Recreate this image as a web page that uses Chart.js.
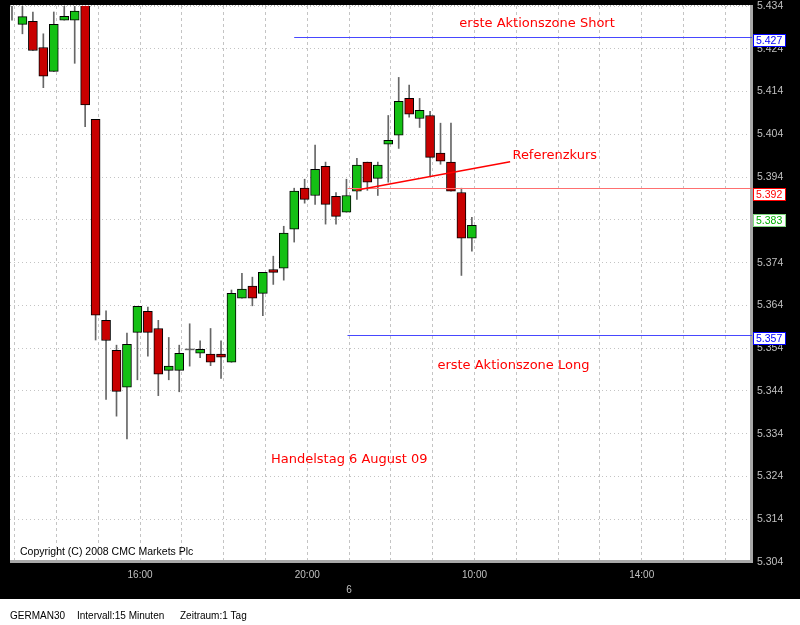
<!DOCTYPE html>
<html>
<head>
<meta charset="utf-8">
<script src="https://cdn.jsdelivr.net/npm/chart.js@4.4.1/dist/chart.umd.min.js"></script>
<style>
  html, body { margin: 0; padding: 0; background: #000; }
  #wrap { width: 800px; height: 625px; }
</style>
</head>
<body>
<div id="wrap"><canvas id="chart" width="800" height="625"></canvas></div>
<script>
// ---- GERMAN30, 15 Minuten (Kerzen von links nach rechts) ----
const opens  = [5.4370, 5.4297, 5.4304, 5.4243, 5.4187, 5.4307, 5.4307, 5.4380, 5.4075, 5.3605,
                5.3535, 5.3449, 5.3577, 5.3626, 5.3586, 5.3488, 5.3488, 5.3537, 5.3528, 5.3526,
                5.3526, 5.3507, 5.3657, 5.3685, 5.3668, 5.3724, 5.3727, 5.3818, 5.3914, 5.3897,
                5.3965, 5.3895, 5.3858, 5.3907, 5.3975, 5.3937, 5.4017, 5.4038, 5.4124, 5.4077,
                5.4084, 5.3996, 5.3975, 5.3904, 5.3797];
const highs  = [5.4410, 5.4360, 5.4326, 5.4275, 5.4326, 5.4360, 5.4360, 5.4400, 5.4075, 5.3627,
                5.3547, 5.3575, 5.3638, 5.3636, 5.3605, 5.3565, 5.3547, 5.3597, 5.3557, 5.3586,
                5.3557, 5.3676, 5.3715, 5.3706, 5.3717, 5.3755, 5.3825, 5.3914, 5.3935, 5.4015,
                5.3975, 5.3904, 5.3935, 5.3984, 5.3975, 5.3975, 5.4084, 5.4173, 5.4155, 5.4124,
                5.4094, 5.4066, 5.4066, 5.3914, 5.3846];
const lows   = [5.4307, 5.4275, 5.4236, 5.4149, 5.4187, 5.4307, 5.4206, 5.4058, 5.3559, 5.3420,
                5.3381, 5.3328, 5.3466, 5.3521, 5.3429, 5.3466, 5.3438, 5.3498, 5.3518, 5.3499,
                5.3469, 5.3507, 5.3657, 5.3639, 5.3616, 5.3689, 5.3699, 5.3788, 5.3879, 5.3876,
                5.3830, 5.3830, 5.3858, 5.3888, 5.3909, 5.3897, 5.3928, 5.4007, 5.4080, 5.4056,
                5.3941, 5.3970, 5.3907, 5.3710, 5.3767];
const closes = [5.4400, 5.4315, 5.4236, 5.4176, 5.4297, 5.4316, 5.4328, 5.4109, 5.3617, 5.3558,
                5.3439, 5.3549, 5.3638, 5.3577, 5.3479, 5.3498, 5.3528, 5.3537, 5.3537, 5.3507,
                5.3519, 5.3668, 5.3678, 5.3657, 5.3717, 5.3717, 5.3809, 5.3907, 5.3888, 5.3958,
                5.3876, 5.3848, 5.3897, 5.3968, 5.3928, 5.3968, 5.4026, 5.4117, 5.4087, 5.4096,
                5.3986, 5.3977, 5.3907, 5.3797, 5.3827];

// ---- Achsen ----
const yTicks = [5.304, 5.314, 5.324, 5.334, 5.344, 5.354, 5.364, 5.374,
                5.384, 5.394, 5.404, 5.414, 5.424, 5.434];
const hourLabels  = ['16:00', '20:00', '10:00', '14:00'];
const hourLabelAt = [12, 28, 44, 60];
const dayLabels   = ['6'];
const dayLabelAt  = [32];

// ---- Markierungen ----
const levelValues = [5.4267, 5.3914, 5.357];
const levelLabels = ['5.427', '5.392', '5.357'];
const levelStart  = [27, 32.1, 32.1];
const refLineIdx  = [32.9, 47.66];
const refLineVal  = [5.3909, 5.3976];
const noteTexts = ['erste Aktionszone Short', 'Referenzkurs', 'erste Aktionszone Long', 'Handelstag 6 August 09'];
const noteIdx   = [42.8, 47.88, 40.7, 24.78];
const noteVal   = [5.4292, 5.3982, 5.3491, 5.3271];

// ---- Farben ----
const C_UP    = '#14c014';
const C_DOWN  = '#c80000';
const C_WICK  = '#666666';
const C_GRID  = '#c4c4c4';
const C_TICK  = '#c0c0c0';
const C_BLUE  = '#0000ff';
const C_RED   = '#ff0000';
const C_GREEN = '#00b000';

const HOURS = 4; // Kerzen pro Stunde
const gridTicks = [];
for (let k = 0; k <= 17; k++) gridTicks.push(k * HOURS + 0.25);

const bodyData = opens.map((o, i) => {
  const c = closes[i];
  if (o === c) return { x: i, y: [o - 0.0001, o + 0.0001] };
  return { x: i, y: [Math.min(o, c), Math.max(o, c)] };
});
const wickData = highs.map((h, i) => ({ x: i, y: [lows[i], h] }));
const bodyColors = opens.map((o, i) => closes[i] > o ? C_UP : (closes[i] < o ? C_DOWN : C_WICK));
const bodyBorders = opens.map((o, i) => closes[i] === o ? 0 : 1);

function xLabel(v) {
  const i = Math.round(v - 0.25);
  const h = hourLabelAt.indexOf(i);
  const d = dayLabelAt.indexOf(i);
  if (h >= 0) return hourLabels[h];
  if (d >= 0) return ['', dayLabels[d]];
  return '';
}

function valueBox(ctx, x, top, text, color, dashed) {
  ctx.save();
  ctx.fillStyle = '#fff';
  ctx.fillRect(x, top, 33, 13);
  ctx.strokeStyle = color;
  ctx.lineWidth = 1;
  if (dashed) ctx.setLineDash([1, 1]);
  ctx.strokeRect(x + 0.5, top + 0.5, 32, 12);
  ctx.setLineDash([]);
  ctx.fillStyle = color;
  ctx.font = '10.5px "Liberation Sans", Arial, sans-serif';
  ctx.textAlign = 'left';
  ctx.textBaseline = 'middle';
  ctx.fillText(text, x + 3, top + 7);
  ctx.restore();
}

const framePlugin = {
  id: 'frame',
  beforeDraw(chart) {
    const { ctx, chartArea: a, width, height } = chart;
    ctx.save();
    ctx.fillStyle = '#000';
    ctx.fillRect(0, 0, width, height);
    ctx.fillStyle = '#fff';
    ctx.fillRect(a.left, a.top - 1, a.right - a.left, a.bottom - a.top + 1);
    ctx.fillRect(0, a.bottom + 37, width, height - a.bottom - 37);
    ctx.restore();
  },
  afterDraw(chart) {
    const { ctx, chartArea: a } = chart;
    const xs = chart.scales.x, ys = chart.scales.y;
    ctx.save();

    // Rahmen
    ctx.strokeStyle = '#b0b0b0';
    ctx.setLineDash([1, 2]);
    ctx.beginPath();
    ctx.moveTo(a.left, a.top - 0.5);
    ctx.lineTo(a.right, a.top - 0.5);
    ctx.stroke();
    ctx.setLineDash([]);
    ctx.fillStyle = '#a8a8a8';
    ctx.fillRect(a.right, a.top - 1, 3, a.bottom - a.top + 2);
    ctx.fillRect(a.left, a.bottom - 2, a.right - a.left + 3, 3);

    // Zonen / Referenzlinie
    levelValues.forEach((v, i) => {
      const y = Math.round(ys.getPixelForValue(v)) + 0.5;
      ctx.strokeStyle = i === 1 ? '#ff7070' : '#4848ff';
      ctx.lineWidth = 1;
      ctx.beginPath();
      ctx.moveTo(xs.getPixelForValue(levelStart[i]), y);
      ctx.lineTo(a.right + 2, y);
      ctx.stroke();
    });

    ctx.strokeStyle = C_RED;
    ctx.lineWidth = 1.5;
    ctx.beginPath();
    ctx.moveTo(xs.getPixelForValue(refLineIdx[0]), ys.getPixelForValue(refLineVal[0]));
    ctx.lineTo(xs.getPixelForValue(refLineIdx[1]), ys.getPixelForValue(refLineVal[1]));
    ctx.stroke();

    // Texte
    ctx.fillStyle = C_RED;
    ctx.font = '13px "DejaVu Sans", Verdana, sans-serif';
    ctx.textAlign = 'left';
    ctx.textBaseline = 'alphabetic';
    noteTexts.forEach((t, i) => {
      ctx.fillText(t, xs.getPixelForValue(noteIdx[i]), ys.getPixelForValue(noteVal[i]));
    });

    // Kursboxen rechts
    const boxColors = [C_BLUE, C_RED, C_BLUE];
    levelValues.forEach((v, i) => {
      const y = ys.getPixelForValue(v);
      valueBox(ctx, a.right + 3, Math.round(y) - (i === 1 ? 0 : 3), levelLabels[i], boxColors[i], false);
    });
    const last = closes[closes.length - 1];
    valueBox(ctx, a.right + 3, Math.round(ys.getPixelForValue(last)) - 11, last.toFixed(3), C_GREEN, true);

    // Copyright + Info
    ctx.fillStyle = '#000';
    ctx.font = '10.5px "Liberation Sans", Arial, sans-serif';
    ctx.textBaseline = 'middle';
    ctx.fillText('Copyright (C) 2008 CMC Markets Plc', a.left + 10, a.bottom - 10);
    ctx.font = '10px "Liberation Sans", Arial, sans-serif';
    const infoY = a.bottom + 54;
    ctx.fillText('GERMAN30', a.left, infoY);
    ctx.fillText('Intervall:15 Minuten', a.left + 67, infoY);
    ctx.fillText('Zeitraum:1 Tag', a.left + 170, infoY);
    ctx.restore();
  }
};

Chart.defaults.font.family = '"Liberation Sans", Arial, sans-serif';

new Chart(document.getElementById('chart').getContext('2d'), {
  type: 'bar',
  data: {
    datasets: [
      {
        label: 'Docht',
        data: wickData,
        backgroundColor: C_WICK,
        barThickness: 1,
        grouped: false,
        order: 2,
        clip: 0
      },
      {
        label: 'Kerze',
        data: bodyData,
        backgroundColor: bodyColors,
        borderColor: '#000',
        borderWidth: bodyBorders,
        borderSkipped: false,
        barThickness: 9,
        grouped: false,
        order: 1,
        clip: 0
      }
    ]
  },
  options: {
    responsive: false,
    animation: false,
    events: [],
    layout: { padding: { left: 10, top: 6, right: 0, bottom: 25 } },
    plugins: { legend: { display: false }, tooltip: { enabled: false } },
    scales: {
      x: {
        type: 'linear',
        offset: false,
        min: -0.19,
        max: 70.61,
        afterBuildTicks: s => { s.ticks = gridTicks.map(v => ({ value: v })); },
        afterFit: s => { s.height = 38; s.paddingLeft = 0; s.paddingRight = 0; },
        grid: { color: C_GRID, drawTicks: false, offset: false },
        border: { display: false, dash: [3, 3] },
        ticks: {
          autoSkip: false,
          maxRotation: 0,
          padding: 6,
          color: C_TICK,
          font: { size: 10, lineHeight: 1.5 },
          callback: v => xLabel(v)
        }
      },
      y: {
        position: 'right',
        min: 5.304,
        max: 5.434,
        afterBuildTicks: s => { s.ticks = yTicks.map(v => ({ value: v })); },
        afterFit: s => { s.width = 50; s.paddingTop = 0; s.paddingBottom = 0; },
        grid: { color: C_GRID, drawTicks: false },
        border: { display: false, dash: [1, 3] },
        ticks: {
          padding: 7,
          color: C_TICK,
          font: { size: 10.5 },
          callback: v => v.toFixed(3)
        }
      }
    }
  },
  plugins: [framePlugin]
});
</script>
</body>
</html>
